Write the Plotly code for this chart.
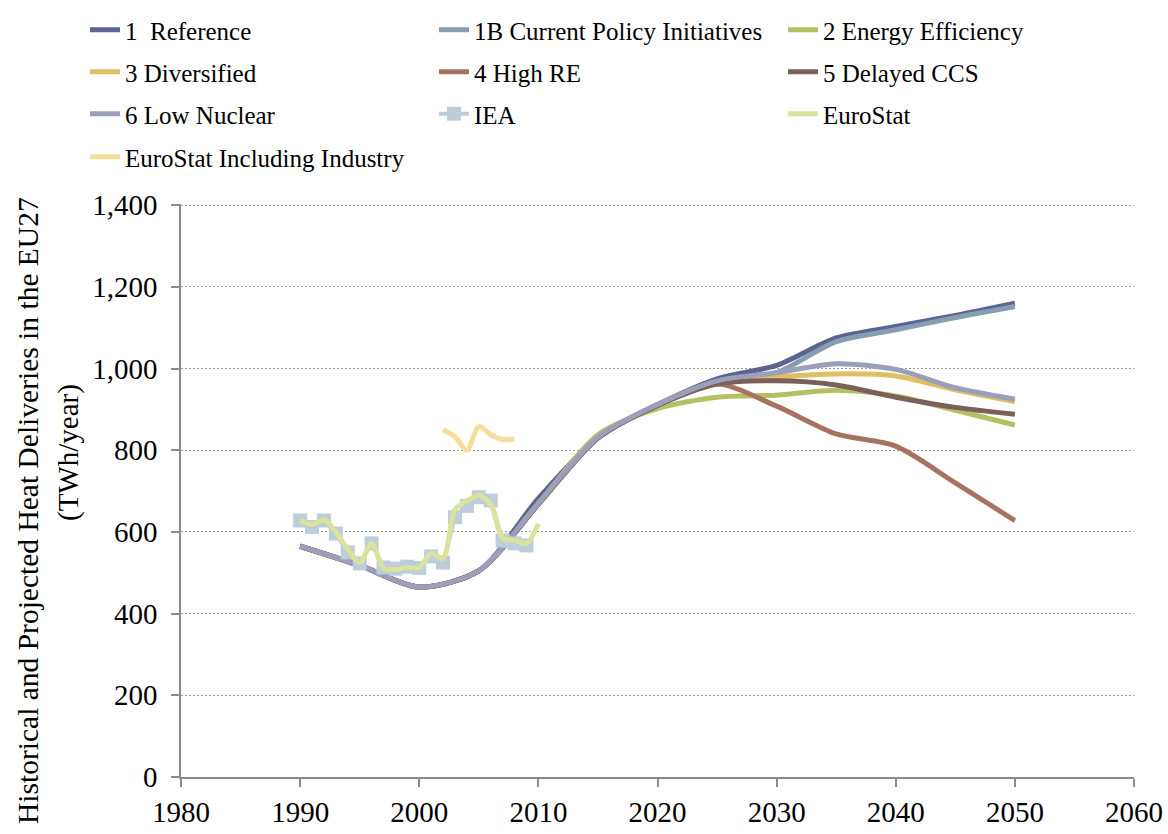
import plotly.graph_objects as go

# ---------------- data ----------------
scen_years = [1990, 1995, 2000, 2005, 2010, 2015, 2020, 2025, 2030, 2035, 2040, 2045, 2050]
reference      = [565, 518, 465, 505, 682, 832, 912, 975, 1008, 1075, 1103, 1130, 1160]
current_policy = [565, 518, 465, 505, 668, 830, 910, 965, 990, 1066, 1095, 1125, 1152]
energy_eff     = [565, 518, 465, 505, 670, 838, 902, 930, 935, 947, 933, 898, 862]
diversified    = [565, 518, 465, 505, 670, 832, 912, 968, 980, 987, 982, 948, 919]
high_re        = [565, 518, 465, 505, 668, 830, 910, 962, 908, 840, 810, 720, 628]
delayed_ccs    = [565, 518, 465, 505, 668, 830, 910, 962, 970, 960, 930, 905, 888]
low_nuclear    = [565, 518, 465, 505, 670, 832, 912, 970, 990, 1012, 998, 953, 925]

iea_years = list(range(1990, 2010))
iea = [628, 612, 628, 596, 550, 523, 572, 513, 510, 515, 512, 540, 525, 636, 664, 685, 677, 579, 572, 567]

eurostat_years = list(range(1990, 2011))
eurostat = [628, 618, 630, 600, 558, 525, 572, 512, 508, 513, 512, 548, 535, 655, 676, 690, 668, 584, 580, 572, 620]

eurostat_ind_years = list(range(2002, 2009))
eurostat_ind = [850, 833, 800, 858, 838, 826, 828]

x_ticks = [1980, 1990, 2000, 2010, 2020, 2030, 2040, 2050, 2060]
y_ticks = [0, 200, 400, 600, 800, 1000, 1200, 1400]

# ---------------- figure ----------------
FONT = "Liberation Serif"
fig = go.Figure()

scenarios = [
    ("1  Reference", reference, "#5b6390", "legend"),
    ("1B Current Policy Initiatives", current_policy, "#859eb1", "legend"),
    ("2 Energy Efficiency", energy_eff, "#b5c063", "legend"),
    ("3 Diversified", diversified, "#dfbf62", "legend2"),
    ("4 High RE", high_re, "#a87260", "legend2"),
    ("5 Delayed CCS", delayed_ccs, "#7a6058", "legend2"),
    ("6 Low Nuclear", low_nuclear, "#9c9fbb", "legend3"),
]
for name, vals, col, lg in scenarios:
    fig.add_trace(go.Scatter(x=scen_years, y=vals, name=name, mode="lines",
                             line=dict(color=col, width=5, shape="spline", smoothing=0.8),
                             legend=lg))

fig.add_trace(go.Scatter(x=iea_years, y=iea, name="IEA", mode="lines+markers",
                         line=dict(color="#bccddb", width=4),
                         marker=dict(symbol="square", size=14, color="#bccddb"),
                         legend="legend3"))
fig.add_trace(go.Scatter(x=eurostat_years, y=eurostat, name="EuroStat", mode="lines",
                         line=dict(color="#dbe29e", width=5, shape="spline", smoothing=0.8),
                         legend="legend3"))
fig.add_trace(go.Scatter(x=eurostat_ind_years, y=eurostat_ind, name="EuroStat Including Industry",
                         mode="lines",
                         line=dict(color="#f8dc9c", width=5, shape="spline", smoothing=0.8),
                         legend="legend4"))

W, H = 1168, 834
L, R, T, B = 181, 34, 204, 57
ph = H - T - B
pw = W - L - R

def py(p):  # pixel y -> paper y
    return (H - B - p) / ph

def px(p):  # pixel x -> paper x
    return (p - L) / pw

leg_common = dict(orientation="h", xanchor="left", yanchor="middle",
                  entrywidth=304, entrywidthmode="pixels",
                  font=dict(family=FONT, size=25, color="#000000"),
                  bgcolor="rgba(0,0,0,0)", traceorder="normal")
lx = px(85)
fig.update_layout(
    legend=dict(x=lx, y=py(30), **leg_common),
    legend2=dict(x=lx, y=py(72), **leg_common),
    legend3=dict(x=lx, y=py(114), **leg_common),
    legend4=dict(x=lx, y=py(157), **leg_common),
)

fig.update_layout(
    width=W, height=H,
    margin=dict(l=L, r=R, t=T, b=B, autoexpand=False),
    plot_bgcolor="white", paper_bgcolor="white",
    font=dict(family=FONT, size=28, color="#000000"),
    showlegend=True,
    xaxis=dict(range=[1980, 2060], tickvals=x_ticks, showgrid=False, zeroline=False,
               showline=True, linecolor="#8c8c8c", linewidth=1.5,
               ticks="outside", ticklen=8, tickcolor="#8c8c8c", tickwidth=1.5,
               tickfont=dict(family=FONT, size=29, color="#000000")),
    yaxis=dict(range=[0, 1403], tickvals=y_ticks, tickformat=",", showgrid=True,
               gridcolor="#9a9a9a", griddash="2px,2px", gridwidth=1.2, zeroline=False,
               showline=True, linecolor="#8c8c8c", linewidth=1.5,
               ticks="outside", ticklen=8, tickcolor="#8c8c8c", tickwidth=1.5,
               ticklabelstandoff=8,
               tickfont=dict(family=FONT, size=29, color="#000000")),
)

fig.add_annotation(text="Historical and Projected Heat Deliveries in the EU27",
                   xref="paper", yref="paper", x=px(28), y=py(511), textangle=-90,
                   showarrow=False, xanchor="center", yanchor="middle",
                   font=dict(family=FONT, size=29.5, color="#000000"))
fig.add_annotation(text="(TWh/year)",
                   xref="paper", yref="paper", x=px(68), y=py(453), textangle=-90,
                   showarrow=False, xanchor="center", yanchor="middle",
                   font=dict(family=FONT, size=29, color="#000000"))

fig.write_html("out.html", config={"displayModeBar": False},
               post_script="document.body.style.margin='0';")
